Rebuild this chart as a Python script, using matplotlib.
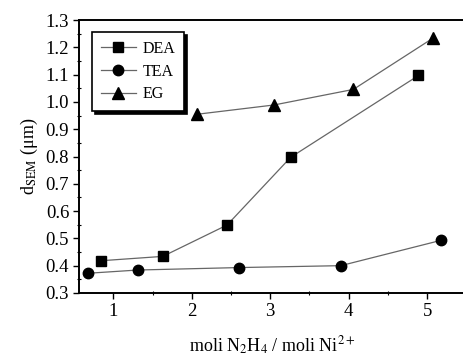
import matplotlib.pyplot as plt

plt.rcParams['font.family'] = ['Liberation Serif', 'DejaVu Serif']
plt.rcParams['mathtext.fontset'] = 'stix'

dea_x = [0.84, 1.63, 2.45, 3.26, 4.89]
dea_y = [0.418, 0.434, 0.549, 0.797, 1.097]
tea_x = [0.67, 1.31, 2.60, 3.90, 5.18]
tea_y = [0.372, 0.384, 0.393, 0.400, 0.493]
eg_x = [2.07, 3.05, 4.06, 5.07]
eg_y = [0.955, 0.989, 1.046, 1.233]

fig = plt.figure(figsize=(4.64, 3.59), dpi=100)
ax = fig.add_axes([0.170, 0.184, 0.835, 0.760])

line_kw = dict(color='#666666', lw=0.9, markerfacecolor='k', markeredgecolor='k')
ax.plot(dea_x, dea_y, marker='s', ms=6.5, label='DEA', **line_kw)
ax.plot(tea_x, tea_y, marker='o', ms=7.5, label='TEA', **line_kw)
ax.plot(eg_x, eg_y, marker='^', ms=8, label='EG', **line_kw)

ax.set_xlim(0.56, 5.5)
ax.set_ylim(0.3, 1.3)
ax.set_xticks([1, 2, 3, 4, 5])
ax.set_xticks([1.5, 2.5, 3.5, 4.5], minor=True)
ax.set_yticks([0.3 + 0.1 * i for i in range(11)])
ax.set_yticklabels(['%.1f' % (0.3 + 0.1 * i) for i in range(11)])
ax.set_yticks([0.35 + 0.1 * i for i in range(10)], minor=True)
ax.tick_params(which='major', direction='out', length=4, width=1, labelsize=13.5, pad=3)
ax.tick_params(which='minor', direction='inout', length=3, width=0.8)
for s in ['left', 'bottom', 'top']:
    ax.spines[s].set_linewidth(1.4)
ax.spines['right'].set_visible(False)

ax.set_xlabel('moli N$_2$H$_4$ / moli Ni$^{2+}$', fontsize=13, labelpad=11)
ax.set_ylabel('d$_{\\mathrm{SEM}}$ (μm)', fontsize=13, labelpad=4)

leg = ax.legend(loc='upper left', bbox_to_anchor=(0.034, 0.956), fontsize=11.5,
                fancybox=False, edgecolor='k', handlelength=2.2, labelspacing=0.42,
                handletextpad=0.4, borderpad=0.55, borderaxespad=0,
                shadow={'color': 'k', 'alpha': 1})
leg.get_frame().set_linewidth(1.2)

plt.savefig('out.png', dpi=100)
